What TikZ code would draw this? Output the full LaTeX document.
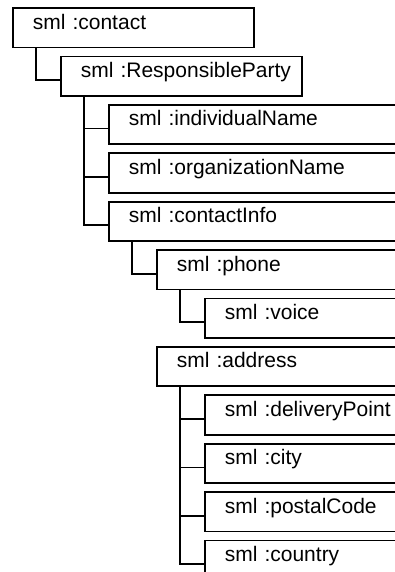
\documentclass[tikz,border=0pt]{standalone}
\usepackage{fontspec}
\setmainfont{Liberation Sans}
\usetikzlibrary{positioning}

\begin{document}
\begin{tikzpicture}[
  x=1pt, y=1pt,
  node distance=3.6pt,
  every node/.style={font=\fontsize{10.5}{12}\selectfont},
  elem/.style={rectangle, draw, line width=0.9pt, anchor=north west, minimum height=19.7pt,
    inner xsep=5pt, inner ysep=0pt, text height=7.5pt, text depth=6.2pt,
    align=left, text width=#1, execute at begin node={\hspace*{5pt}}},
  elem/.default=190pt,
  branch/.style={line width=0.9pt}
]
  \useasboundingbox (0,0) rectangle (197.5,-286);
  \clip (0,0) rectangle (197.5,-286);

  \node[elem=110.5pt] (contact) at (6,-3.6) {sml :contact};
  \node[elem=110.5pt, below=of contact.south west, anchor=north west, xshift=24pt] (party) {sml :ResponsibleParty};

  \node[elem, below=of party.south west, anchor=north west, xshift=24pt] (individual) {sml :individualName};
  \node[elem, below=of individual.south west, anchor=north west] (organization) {sml :organizationName};
  \node[elem, below=of organization.south west, anchor=north west] (info) {sml :contactInfo};

  \node[elem, below=of info.south west, anchor=north west, xshift=24pt] (phone) {sml :phone};
  \node[elem, below=of phone.south west, anchor=north west, xshift=24pt] (voice) {sml :voice};
  \node[elem, below=of voice.south west, anchor=north west, xshift=-24pt] (address) {sml :address};

  \node[elem, below=of address.south west, anchor=north west, xshift=24pt] (delivery) {sml :deliveryPoint};
  \node[elem, below=of delivery.south west, anchor=north west] (city) {sml :city};
  \node[elem, below=of city.south west, anchor=north west] (postal) {sml :postalCode};
  \node[elem, below=of postal.south west, anchor=north west] (country) {sml :country};

  \draw[branch] ([xshift=12pt]contact.south west) |- ([yshift=-2pt]party.west);

  \draw[branch] ([xshift=12pt]party.south west) |- ([yshift=-2pt]individual.west);
  \draw[branch] ([xshift=12pt]party.south west) |- ([yshift=-2pt]organization.west);
  \draw[branch] ([xshift=12pt]party.south west) |- ([yshift=-2pt]info.west);

  \draw[branch] ([xshift=12pt]info.south west) |- ([yshift=-2pt]phone.west);
  \draw[branch] ([xshift=12pt]phone.south west) |- ([yshift=-2pt]voice.west);

  \draw[branch] ([xshift=12pt]address.south west) |- ([yshift=-2pt]delivery.west);
  \draw[branch] ([xshift=12pt]address.south west) |- ([yshift=-2pt]city.west);
  \draw[branch] ([xshift=12pt]address.south west) |- ([yshift=-2pt]postal.west);
  \draw[branch] ([xshift=12pt]address.south west) |- ([yshift=-2pt]country.west);

\end{tikzpicture}
\end{document}
